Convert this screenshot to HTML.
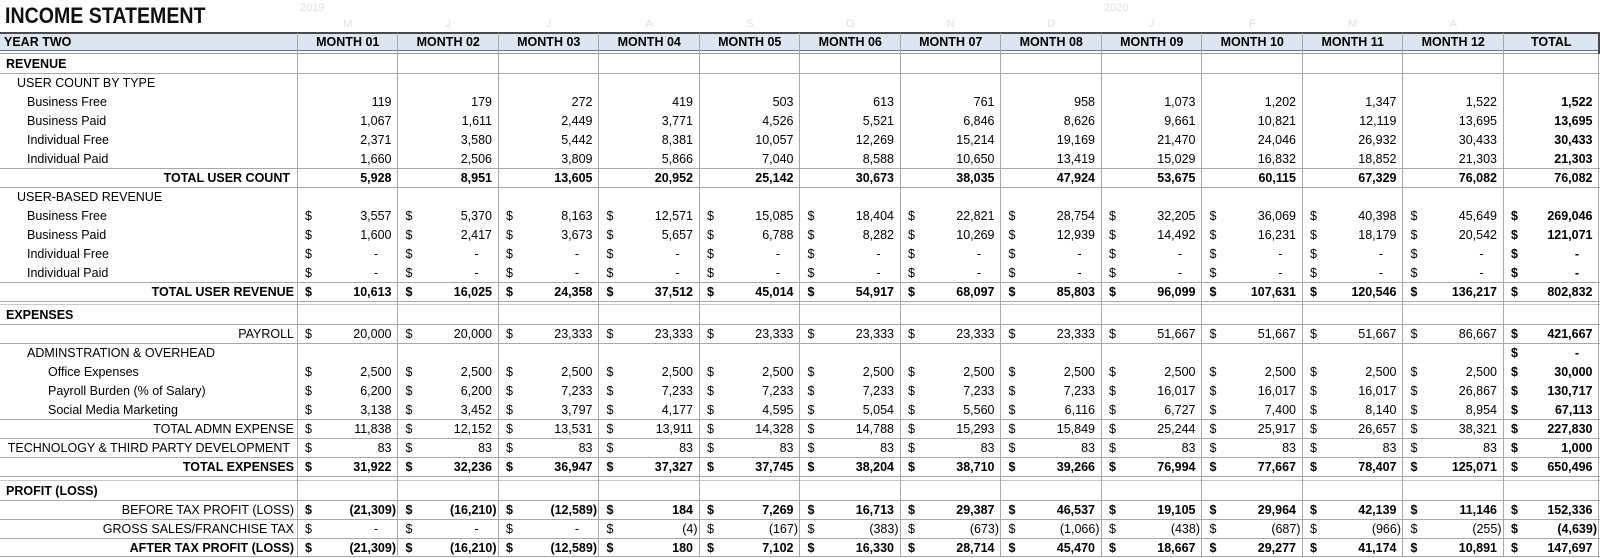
<!DOCTYPE html>
<html><head><meta charset="utf-8">
<style>
*{margin:0;padding:0;box-sizing:border-box}
body{width:1600px;height:557px;background:#fff;position:relative;overflow:hidden;font-family:"Liberation Sans",Arial,sans-serif;font-size:12.5px;color:#000}
.t{position:absolute;left:5px;top:5px;font-size:22px;font-weight:bold;line-height:22px;transform:scaleX(0.89);transform-origin:0 0;white-space:nowrap;color:#111}
.f{position:absolute;color:#e0e0e0;font-size:11px;line-height:12px}
.fl{position:absolute;left:297.5px;top:18px;display:flex;color:#e0e0e0;font-size:11px;line-height:12px}
.fl div{width:100.5px;text-align:center}
.hd{position:absolute;left:0;top:34px;width:1599px;height:16px;background:#dce6f1}
.h{position:absolute;left:0;width:1600px;height:1px;background:#a8a8a8}
.v{position:absolute;top:33px;width:1px;height:524px;background:#a8a8a8}
.r{position:absolute;left:0;width:1600px;height:19px;line-height:19px;display:flex;white-space:nowrap}
.r>div{position:relative;flex:none;height:19px}
.l{width:297.5px}
.m{width:100.5px;text-align:right;padding-right:6.5px}
.x{width:95.5px;text-align:right;padding-right:6.5px;font-weight:bold}
.n{padding-right:2px}
.d{padding-right:20px}
.r i{position:absolute;left:7.5px;top:0;font-style:normal}
.b{font-weight:bold}
.nb{font-weight:normal}
.hh{top:33px;height:18px;line-height:18px;font-weight:bold}
.hh>div{height:18px}
.hh .m,.hh .x{text-align:center;padding-right:0}
.rl{text-align:right;padding-right:3.5px}
.rl2{text-align:right;padding-right:7.5px}
</style></head><body>

<div class="t">INCOME STATEMENT</div>
<div class="f" style="left:300px;top:2px">2019</div>
<div class="f" style="left:1104px;top:2px">2020</div>
<div class="fl"><div>M</div><div>J</div><div>J</div><div>A</div><div>S</div><div>O</div><div>N</div><div>D</div><div>J</div><div>F</div><div>M</div><div>A</div></div>

<div class="hd"></div>
<div style="position:absolute;left:0;top:32px;width:1600px;height:2px;background:#4a4a4a"></div>
<div style="position:absolute;left:0;top:50px;width:1600px;height:1px;background:#6e6e6e"></div>
<div style="position:absolute;left:0;top:53px;width:1600px;height:1px;background:#9a9a9a"></div>

<!-- horizontal lines -->
<div class="h" style="top:73px"></div>
<div class="h" style="top:168px"></div>
<div class="h" style="top:187px"></div>
<div class="h" style="top:282px"></div>
<div class="h" style="top:301px"></div>
<div class="h" style="top:304px;background:#c8c8c8"></div>
<div class="h" style="top:324px"></div>
<div class="h" style="top:343px"></div>
<div class="h" style="top:419px"></div>
<div class="h" style="top:438px"></div>
<div class="h" style="top:457px"></div>
<div class="h" style="top:476px"></div>
<div class="h" style="top:480px;background:#c8c8c8"></div>
<div class="h" style="top:500px"></div>
<div class="h" style="top:519px"></div>
<div class="h" style="top:538px"></div>
<div class="h" style="top:556px"></div>

<!-- vertical lines -->
<div class="v" style="left:297px"></div>
<div class="v" style="left:397px"></div>
<div class="v" style="left:498px"></div>
<div class="v" style="left:598px"></div>
<div class="v" style="left:699px"></div>
<div class="v" style="left:799px"></div>
<div class="v" style="left:900px"></div>
<div class="v" style="left:1000px"></div>
<div class="v" style="left:1101px"></div>
<div class="v" style="left:1201px"></div>
<div class="v" style="left:1302px"></div>
<div class="v" style="left:1402px"></div>
<div class="v" style="left:1503px"></div>
<div class="v" style="left:1598px"></div>
<div style="position:absolute;left:1598px;top:32px;width:2px;height:22px;background:#4a4a4a"></div>

<!-- header -->
<div class="r hh"><div class="l" style="padding-left:4px">YEAR TWO</div><div class="m">MONTH 01</div><div class="m">MONTH 02</div><div class="m">MONTH 03</div><div class="m">MONTH 04</div><div class="m">MONTH 05</div><div class="m">MONTH 06</div><div class="m">MONTH 07</div><div class="m">MONTH 08</div><div class="m">MONTH 09</div><div class="m">MONTH 10</div><div class="m">MONTH 11</div><div class="m">MONTH 12</div><div class="x">TOTAL</div></div>

<div class="r b" style="top:55px"><div class="l" style="padding-left:6px">REVENUE</div></div>
<div class="r" style="top:74px"><div class="l" style="padding-left:17px">USER COUNT BY TYPE</div></div>

<div class="r" style="top:93px"><div class="l" style="padding-left:27px">Business Free</div><div class="m">119</div><div class="m">179</div><div class="m">272</div><div class="m">419</div><div class="m">503</div><div class="m">613</div><div class="m">761</div><div class="m">958</div><div class="m">1,073</div><div class="m">1,202</div><div class="m">1,347</div><div class="m">1,522</div><div class="x">1,522</div></div>

<div class="r" style="top:112px"><div class="l" style="padding-left:27px">Business Paid</div><div class="m">1,067</div><div class="m">1,611</div><div class="m">2,449</div><div class="m">3,771</div><div class="m">4,526</div><div class="m">5,521</div><div class="m">6,846</div><div class="m">8,626</div><div class="m">9,661</div><div class="m">10,821</div><div class="m">12,119</div><div class="m">13,695</div><div class="x">13,695</div></div>

<div class="r" style="top:131px"><div class="l" style="padding-left:27px">Individual Free</div><div class="m">2,371</div><div class="m">3,580</div><div class="m">5,442</div><div class="m">8,381</div><div class="m">10,057</div><div class="m">12,269</div><div class="m">15,214</div><div class="m">19,169</div><div class="m">21,470</div><div class="m">24,046</div><div class="m">26,932</div><div class="m">30,433</div><div class="x">30,433</div></div>

<div class="r" style="top:150px"><div class="l" style="padding-left:27px">Individual Paid</div><div class="m">1,660</div><div class="m">2,506</div><div class="m">3,809</div><div class="m">5,866</div><div class="m">7,040</div><div class="m">8,588</div><div class="m">10,650</div><div class="m">13,419</div><div class="m">15,029</div><div class="m">16,832</div><div class="m">18,852</div><div class="m">21,303</div><div class="x">21,303</div></div>

<div class="r b" style="top:169px"><div class="l rl2">TOTAL USER COUNT</div><div class="m">5,928</div><div class="m">8,951</div><div class="m">13,605</div><div class="m">20,952</div><div class="m">25,142</div><div class="m">30,673</div><div class="m">38,035</div><div class="m">47,924</div><div class="m">53,675</div><div class="m">60,115</div><div class="m">67,329</div><div class="m">76,082</div><div class="x">76,082</div></div>

<div class="r" style="top:188px"><div class="l" style="padding-left:17px">USER-BASED REVENUE</div></div>

<div class="r" style="top:207px"><div class="l" style="padding-left:27px">Business Free</div><div class="m"><i>$</i>3,557</div><div class="m"><i>$</i>5,370</div><div class="m"><i>$</i>8,163</div><div class="m"><i>$</i>12,571</div><div class="m"><i>$</i>15,085</div><div class="m"><i>$</i>18,404</div><div class="m"><i>$</i>22,821</div><div class="m"><i>$</i>28,754</div><div class="m"><i>$</i>32,205</div><div class="m"><i>$</i>36,069</div><div class="m"><i>$</i>40,398</div><div class="m"><i>$</i>45,649</div><div class="x"><i>$</i>269,046</div></div>

<div class="r" style="top:226px"><div class="l" style="padding-left:27px">Business Paid</div><div class="m"><i>$</i>1,600</div><div class="m"><i>$</i>2,417</div><div class="m"><i>$</i>3,673</div><div class="m"><i>$</i>5,657</div><div class="m"><i>$</i>6,788</div><div class="m"><i>$</i>8,282</div><div class="m"><i>$</i>10,269</div><div class="m"><i>$</i>12,939</div><div class="m"><i>$</i>14,492</div><div class="m"><i>$</i>16,231</div><div class="m"><i>$</i>18,179</div><div class="m"><i>$</i>20,542</div><div class="x"><i>$</i>121,071</div></div>

<div class="r" style="top:245px"><div class="l" style="padding-left:27px">Individual Free</div><div class="m d"><i>$</i>-</div><div class="m d"><i>$</i>-</div><div class="m d"><i>$</i>-</div><div class="m d"><i>$</i>-</div><div class="m d"><i>$</i>-</div><div class="m d"><i>$</i>-</div><div class="m d"><i>$</i>-</div><div class="m d"><i>$</i>-</div><div class="m d"><i>$</i>-</div><div class="m d"><i>$</i>-</div><div class="m d"><i>$</i>-</div><div class="m d"><i>$</i>-</div><div class="x d"><i>$</i>-</div></div>

<div class="r" style="top:264px"><div class="l" style="padding-left:27px">Individual Paid</div><div class="m d"><i>$</i>-</div><div class="m d"><i>$</i>-</div><div class="m d"><i>$</i>-</div><div class="m d"><i>$</i>-</div><div class="m d"><i>$</i>-</div><div class="m d"><i>$</i>-</div><div class="m d"><i>$</i>-</div><div class="m d"><i>$</i>-</div><div class="m d"><i>$</i>-</div><div class="m d"><i>$</i>-</div><div class="m d"><i>$</i>-</div><div class="m d"><i>$</i>-</div><div class="x d"><i>$</i>-</div></div>

<div class="r b" style="top:283px"><div class="l rl">TOTAL USER REVENUE</div><div class="m"><i>$</i>10,613</div><div class="m"><i>$</i>16,025</div><div class="m"><i>$</i>24,358</div><div class="m"><i>$</i>37,512</div><div class="m"><i>$</i>45,014</div><div class="m"><i>$</i>54,917</div><div class="m"><i>$</i>68,097</div><div class="m"><i>$</i>85,803</div><div class="m"><i>$</i>96,099</div><div class="m"><i>$</i>107,631</div><div class="m"><i>$</i>120,546</div><div class="m"><i>$</i>136,217</div><div class="x"><i>$</i>802,832</div></div>

<div class="r b" style="top:306px"><div class="l" style="padding-left:6px">EXPENSES</div></div>

<div class="r" style="top:325px"><div class="l rl">PAYROLL</div><div class="m"><i>$</i>20,000</div><div class="m"><i>$</i>20,000</div><div class="m"><i>$</i>23,333</div><div class="m"><i>$</i>23,333</div><div class="m"><i>$</i>23,333</div><div class="m"><i>$</i>23,333</div><div class="m"><i>$</i>23,333</div><div class="m"><i>$</i>23,333</div><div class="m"><i>$</i>51,667</div><div class="m"><i>$</i>51,667</div><div class="m"><i>$</i>51,667</div><div class="m"><i>$</i>86,667</div><div class="x"><i>$</i>421,667</div></div>

<div class="r" style="top:344px"><div class="l" style="padding-left:27px">ADMINSTRATION &amp; OVERHEAD</div><div class="m"></div><div class="m"></div><div class="m"></div><div class="m"></div><div class="m"></div><div class="m"></div><div class="m"></div><div class="m"></div><div class="m"></div><div class="m"></div><div class="m"></div><div class="m"></div><div class="x d"><i>$</i>-</div></div>

<div class="r" style="top:363px"><div class="l" style="padding-left:48px">Office Expenses</div><div class="m"><i>$</i>2,500</div><div class="m"><i>$</i>2,500</div><div class="m"><i>$</i>2,500</div><div class="m"><i>$</i>2,500</div><div class="m"><i>$</i>2,500</div><div class="m"><i>$</i>2,500</div><div class="m"><i>$</i>2,500</div><div class="m"><i>$</i>2,500</div><div class="m"><i>$</i>2,500</div><div class="m"><i>$</i>2,500</div><div class="m"><i>$</i>2,500</div><div class="m"><i>$</i>2,500</div><div class="x"><i>$</i>30,000</div></div>

<div class="r" style="top:382px"><div class="l" style="padding-left:48px">Payroll Burden (% of Salary)</div><div class="m"><i>$</i>6,200</div><div class="m"><i>$</i>6,200</div><div class="m"><i>$</i>7,233</div><div class="m"><i>$</i>7,233</div><div class="m"><i>$</i>7,233</div><div class="m"><i>$</i>7,233</div><div class="m"><i>$</i>7,233</div><div class="m"><i>$</i>7,233</div><div class="m"><i>$</i>16,017</div><div class="m"><i>$</i>16,017</div><div class="m"><i>$</i>16,017</div><div class="m"><i>$</i>26,867</div><div class="x"><i>$</i>130,717</div></div>

<div class="r" style="top:401px"><div class="l" style="padding-left:48px">Social Media Marketing</div><div class="m"><i>$</i>3,138</div><div class="m"><i>$</i>3,452</div><div class="m"><i>$</i>3,797</div><div class="m"><i>$</i>4,177</div><div class="m"><i>$</i>4,595</div><div class="m"><i>$</i>5,054</div><div class="m"><i>$</i>5,560</div><div class="m"><i>$</i>6,116</div><div class="m"><i>$</i>6,727</div><div class="m"><i>$</i>7,400</div><div class="m"><i>$</i>8,140</div><div class="m"><i>$</i>8,954</div><div class="x"><i>$</i>67,113</div></div>

<div class="r" style="top:420px"><div class="l rl">TOTAL ADMN EXPENSE</div><div class="m"><i>$</i>11,838</div><div class="m"><i>$</i>12,152</div><div class="m"><i>$</i>13,531</div><div class="m"><i>$</i>13,911</div><div class="m"><i>$</i>14,328</div><div class="m"><i>$</i>14,788</div><div class="m"><i>$</i>15,293</div><div class="m"><i>$</i>15,849</div><div class="m"><i>$</i>25,244</div><div class="m"><i>$</i>25,917</div><div class="m"><i>$</i>26,657</div><div class="m"><i>$</i>38,321</div><div class="x"><i>$</i>227,830</div></div>

<div class="r" style="top:439px"><div class="l rl2">TECHNOLOGY &amp; THIRD PARTY DEVELOPMENT</div><div class="m"><i>$</i>83</div><div class="m"><i>$</i>83</div><div class="m"><i>$</i>83</div><div class="m"><i>$</i>83</div><div class="m"><i>$</i>83</div><div class="m"><i>$</i>83</div><div class="m"><i>$</i>83</div><div class="m"><i>$</i>83</div><div class="m"><i>$</i>83</div><div class="m"><i>$</i>83</div><div class="m"><i>$</i>83</div><div class="m"><i>$</i>83</div><div class="x"><i>$</i>1,000</div></div>

<div class="r b" style="top:458px"><div class="l rl">TOTAL EXPENSES</div><div class="m"><i>$</i>31,922</div><div class="m"><i>$</i>32,236</div><div class="m"><i>$</i>36,947</div><div class="m"><i>$</i>37,327</div><div class="m"><i>$</i>37,745</div><div class="m"><i>$</i>38,204</div><div class="m"><i>$</i>38,710</div><div class="m"><i>$</i>39,266</div><div class="m"><i>$</i>76,994</div><div class="m"><i>$</i>77,667</div><div class="m"><i>$</i>78,407</div><div class="m"><i>$</i>125,071</div><div class="x"><i>$</i>650,496</div></div>

<div class="r b" style="top:482px"><div class="l" style="padding-left:6px">PROFIT (LOSS)</div></div>

<div class="r b" style="top:501px"><div class="l rl nb">BEFORE TAX PROFIT (LOSS)</div><div class="m n"><i>$</i>(21,309)</div><div class="m n"><i>$</i>(16,210)</div><div class="m n"><i>$</i>(12,589)</div><div class="m"><i>$</i>184</div><div class="m"><i>$</i>7,269</div><div class="m"><i>$</i>16,713</div><div class="m"><i>$</i>29,387</div><div class="m"><i>$</i>46,537</div><div class="m"><i>$</i>19,105</div><div class="m"><i>$</i>29,964</div><div class="m"><i>$</i>42,139</div><div class="m"><i>$</i>11,146</div><div class="x"><i>$</i>152,336</div></div>

<div class="r" style="top:520px"><div class="l rl">GROSS SALES/FRANCHISE TAX</div><div class="m d"><i>$</i>-</div><div class="m d"><i>$</i>-</div><div class="m d"><i>$</i>-</div><div class="m n"><i>$</i>(4)</div><div class="m n"><i>$</i>(167)</div><div class="m n"><i>$</i>(383)</div><div class="m n"><i>$</i>(673)</div><div class="m n"><i>$</i>(1,066)</div><div class="m n"><i>$</i>(438)</div><div class="m n"><i>$</i>(687)</div><div class="m n"><i>$</i>(966)</div><div class="m n"><i>$</i>(255)</div><div class="x n"><i>$</i>(4,639)</div></div>

<div class="r b" style="top:539px"><div class="l rl">AFTER TAX PROFIT (LOSS)</div><div class="m n"><i>$</i>(21,309)</div><div class="m n"><i>$</i>(16,210)</div><div class="m n"><i>$</i>(12,589)</div><div class="m"><i>$</i>180</div><div class="m"><i>$</i>7,102</div><div class="m"><i>$</i>16,330</div><div class="m"><i>$</i>28,714</div><div class="m"><i>$</i>45,470</div><div class="m"><i>$</i>18,667</div><div class="m"><i>$</i>29,277</div><div class="m"><i>$</i>41,174</div><div class="m"><i>$</i>10,891</div><div class="x"><i>$</i>147,697</div></div>

</body></html>
